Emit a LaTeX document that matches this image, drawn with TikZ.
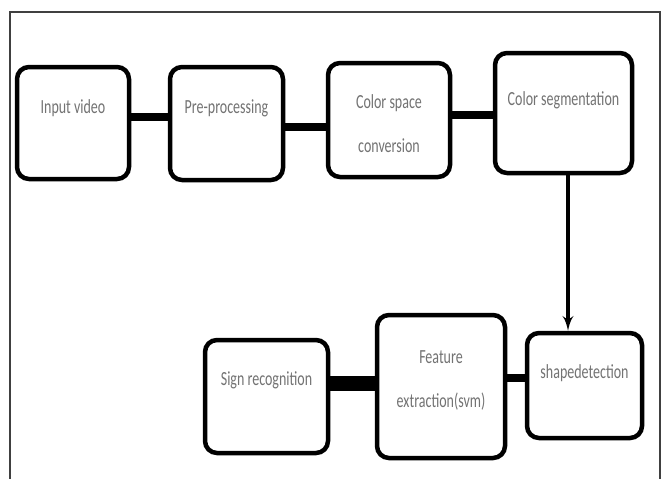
\documentclass[tikz,border=0pt]{standalone}
\usepackage{fontspec}
\setmainfont{Carlito}[FakeStretch=0.7]
\usepackage{tikz}
\usetikzlibrary{arrows,positioning}

\begin{document}
\begin{tikzpicture}[x=1pt, y=-1pt,
    block/.style={rectangle, draw, line width=4.5pt, fill=white, rounded corners=12pt},
    txt/.style={text=black!55, font=\fontsize{20}{22}\selectfont, align=center, inner sep=0pt},
    bar/.style={draw, line width=#1},
    bar/.default=8pt,
    line/.style={draw, -latex', line width=4pt}]

    \useasboundingbox (0,0) rectangle (669,479);
    \draw [black!75, line width=1.5pt] (10,479) |- (660,12) -- (660,479);

    \node [block, minimum width=112pt, minimum height=112pt] (input) at (73,123) {};
    \node [block, minimum width=113pt, minimum height=113pt] (prep) at (226.5,123.5) {};
    \node [block, minimum width=122pt, minimum height=114pt] (conv) at (389,120) {};
    \node [block, minimum width=137pt, minimum height=120pt] (seg) at (563.5,113) {};
    \node [block, minimum width=115pt, minimum height=105pt] (shape) at (584.5,385.5) {};
    \node [block, minimum width=128pt, minimum height=143pt] (feat) at (441,386.5) {};
    \node [block, minimum width=123pt, minimum height=113pt] (sign) at (266.5,396.5) {};

    % box texts
    \node [txt] (input-t) at (73,108) {Input video};
    \node [txt] (prep-t) at (226.5,108) {Pre-processing};
    \node [txt] (conv-t) at (389,124) {Color space\\[22pt]conversion};
    \node [txt] (seg-t) at (563.5,100) {Color segmentation};
    \node [txt] (shape-t) at (584.5,373) {shapedetection};
    \node [txt] (feat-t) at (441,380) {Feature\\[22pt]extraction(svm)};
    \node [txt] (sign-t) at (266.5,380) {Sign recognition};

    \path [bar] ([yshift=6pt]input.east) -- ([yshift=6pt]input.east -| prep.west);
    \path [bar] ([yshift=-3.5pt]prep.east) -- ([yshift=-3.5pt]prep.east -| conv.west);
    \path [bar] ([yshift=5pt]conv.east) -- ([yshift=5pt]conv.east -| seg.west);
    \path [line] ([xshift=4.5pt]seg.south) -- ([xshift=4.5pt]seg.south |- shape.north);
    \path [bar] ([yshift=7.5pt]shape.west) -- ([yshift=7.5pt]shape.west -| feat.east);
    \path [bar=15pt] ([yshift=3.5pt]feat.west) -- ([yshift=3.5pt]feat.west -| sign.east);
\end{tikzpicture}
\end{document}
